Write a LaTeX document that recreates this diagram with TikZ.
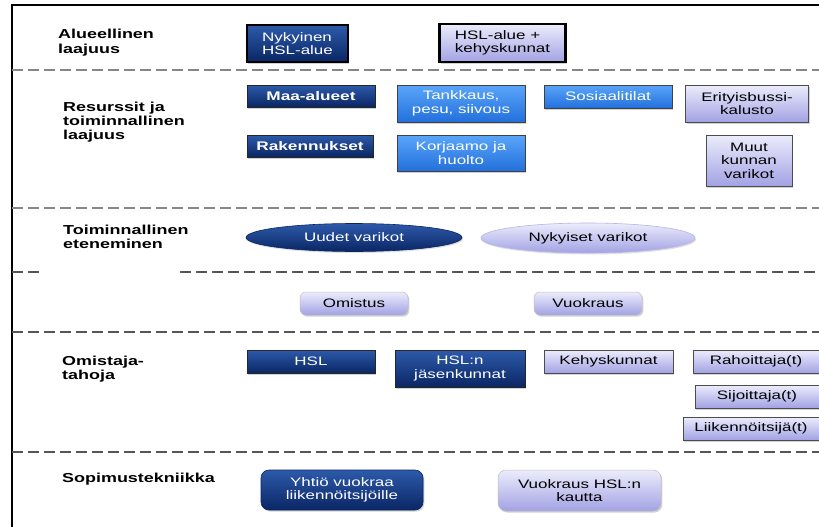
\documentclass[tikz,border=0pt]{standalone}
\usepackage{fontspec}
\setmainfont{Liberation Sans}[FakeStretch=1.38]
\usetikzlibrary{shapes.geometric,shadows}
\definecolor{dkt}{RGB}{45,90,170}
\definecolor{dkm}{RGB}{18,58,138}
\definecolor{dkb}{RGB}{10,38,100}
\definecolor{brt}{RGB}{90,165,250}
\definecolor{brm}{RGB}{52,138,240}
\definecolor{brb}{RGB}{35,112,220}
\definecolor{lvt}{RGB}{236,236,252}
\definecolor{lvm}{RGB}{194,194,242}
\definecolor{lvb}{RGB}{162,162,228}
\definecolor{sepgray}{RGB}{135,135,135}
\definecolor{sepdark}{RGB}{85,85,85}
\newcommand\boxfont{\fontsize{12.3}{13.5}\selectfont}
\newcommand\boldboxfont{\fontsize{12.5}{13.5}\selectfont\bfseries}
\newcommand\labfont{\fontsize{13}{15}\selectfont\bfseries}
\tikzset{
  base/.style={inner sep=0pt, align=center, font=\boxfont,
    drop shadow={shadow xshift=1.3pt, shadow yshift=-1.6pt, opacity=0.35}},
  dk/.style={base, draw=black!85, line width=0.9pt, top color=dkt, middle color=dkm, bottom color=dkb, text=white},
  br/.style={base, draw=black!75, line width=0.9pt, top color=brt, middle color=brm, bottom color=brb, text=white},
  lv/.style={base, draw=black!70, line width=0.9pt, top color=lvt, middle color=lvm, bottom color=lvb, text=black},
  heavy/.style={line width=2.4pt, draw=black},
  pill/.style={rounded corners=6pt, draw=black!25, line width=0.5pt},
  oval/.style={ellipse, inner sep=0pt, font=\boxfont,
    drop shadow={shadow xshift=1pt, shadow yshift=-1.5pt, opacity=0.25}},
  lab/.style={anchor=west, inner sep=0pt, align=left, font=\labfont},
  frameline/.style={line width=2.4pt, black},
  sepline/.style={dash pattern=on 11pt off 5pt, line width=2.2pt, sepgray},
  seplow/.style={dash pattern=on 11pt off 5pt, line width=1.4pt, sepdark}
}
\begin{document}
\begin{tikzpicture}[x=1pt,y=-1pt]
\useasboundingbox (0,0) rectangle (819,527);
\fill[white] (0,0) rectangle (819,527);

% frame
\draw[frameline] (12.2,527) -- (12.2,5) -- (819,5);

% separators
\draw[sepline] (12,69.7) -- (819,69.7);
\draw[sepline] (12,207.7) -- (819,207.7);
\draw[seplow] (12,272) -- (40,272);
\draw[seplow] (180,272) -- (819,272);
\draw[seplow] (12,332) -- (819,332);
\draw[seplow] (12,452) -- (819,452);

% row labels
\node[lab] (alu) at (58,42.4) {Alueellinen\\laajuus};
\node[lab, font=\fontsize{13}{13.8}\selectfont\bfseries] (res) at (63,122) {Resurssit ja\\toiminnallinen\\laajuus};
\node[lab, font=\fontsize{13}{13.3}\selectfont\bfseries] (toi) at (63,237) {Toiminnallinen\\eteneminen};
\node[lab, font=\fontsize{13}{14}\selectfont\bfseries] (omi) at (62,369.6) {Omistaja-\\tahoja};
\node[lab] (sop) at (62,479.6) {Sopimustekniikka};

% row 1
\node[dk, heavy, align=left, minimum width=101pt, minimum height=37pt] (nyk) at (297.5,43.5) {Nykyinen\\HSL-alue};
\node[lv, heavy, align=left, minimum width=126pt, minimum height=38pt] (hslk) at (502.5,43) {HSL-alue +\\kehyskunnat};

% row 2
\node[dk, font=\boldboxfont, minimum width=128pt, minimum height=22pt] (maa) at (311,96) {Maa-alueet};
\node[br, minimum width=128pt, minimum height=37pt] (tank) at (461,103.5) {Tankkaus,\\pesu, siivous};
\node[br, minimum width=128pt, minimum height=23pt] (sos) at (608,96.5) {Sosiaalitilat};
\node[lv, minimum width=123pt, minimum height=37pt] (eri) at (747,103.5) {Erityisbussi-\\kalusto};
\node[dk, font=\boldboxfont, minimum width=126pt, minimum height=22pt] (rak) at (310,146) {Rakennukset};
\node[br, minimum width=128pt, minimum height=36pt] (kor) at (461,153) {Korjaamo ja\\huolto};
\node[lv, minimum width=86pt, minimum height=51pt] (muut) at (749,160.5) {Muut\\kunnan\\varikot};

% row 3
\node[oval, draw=dkb, line width=0.6pt, top color=dkt, middle color=dkm, bottom color=dkb, text=white, minimum width=216pt, minimum height=28pt] (uud) at (354,237.5) {Uudet varikot};
\node[oval, draw=lvb!80, line width=0.6pt, top color=lvt, middle color=lvm, bottom color=lvb, text=black, minimum width=214pt, minimum height=30pt] (nyv) at (588,238) {Nykyiset varikot};

% row 4
\node[base, pill, top color=lvt, middle color=lvm, bottom color=lvb, minimum width=108pt, minimum height=23pt] (oms) at (354,303.5) {Omistus};
\node[base, pill, top color=lvt, middle color=lvm, bottom color=lvb, minimum width=108pt, minimum height=23pt] (vkr) at (588,303.5) {Vuokraus};

% row 5
\node[dk, minimum width=128pt, minimum height=23pt] (hsl) at (311,361.5) {HSL};
\node[dk, minimum width=130pt, minimum height=37pt] (hslj) at (460,368.5) {HSL:n\\jäsenkunnat};
\node[lv, minimum width=129pt, minimum height=23pt] (keh) at (608.5,361.5) {Kehyskunnat};
\node[lv, minimum width=126pt, minimum height=23pt] (rah) at (756,361.5) {Rahoittaja(t)};
\node[lv, minimum width=124pt, minimum height=23pt] (sij) at (757,396.5) {Sijoittaja(t)};
\node[lv, minimum width=136pt, minimum height=23pt] (lii) at (751,428.5) {Liikennöitsijä(t)};

% row 6
\node[base, rounded corners=8pt, draw=dkb, line width=0.6pt, top color=dkt, middle color=dkm, bottom color=dkb, text=white, minimum width=162pt, minimum height=40pt] (yht) at (342,490) {Yhtiö vuokraa\\liikennöitsijöille};
\node[base, rounded corners=8pt, draw=black!25, line width=0.5pt, top color=lvt, middle color=lvm, bottom color=lvb, minimum width=163pt, minimum height=41pt] (vhsl) at (579.5,490.5) {Vuokraus HSL:n\\kautta};
\end{tikzpicture}
\end{document}
